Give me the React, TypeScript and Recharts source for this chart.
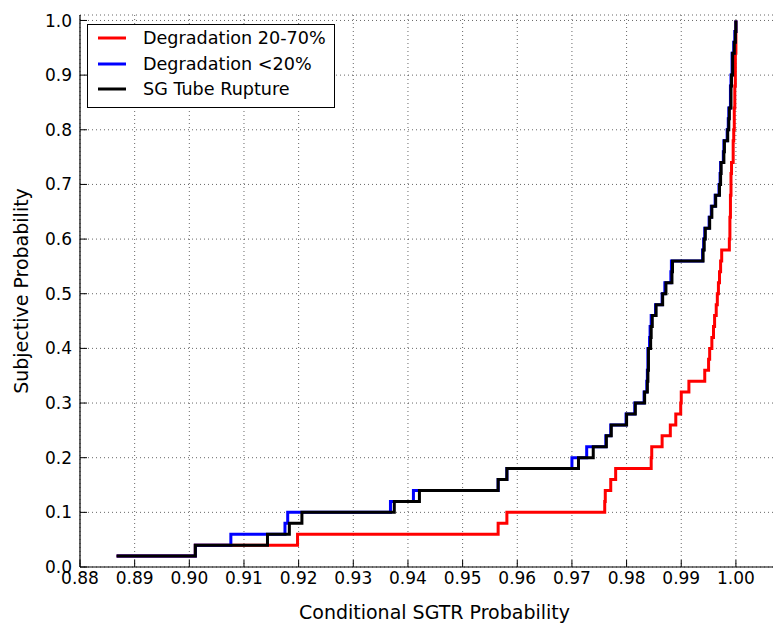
import { LineChart, Line, XAxis, YAxis, CartesianGrid, Legend } from "recharts";

const FONT = "'DejaVu Sans', 'Liberation Sans', sans-serif";

// cumulative probability levels, 50 samples per curve
const probLevels = [
  0.02, 0.04, 0.06, 0.08, 0.10, 0.12, 0.14, 0.16, 0.18, 0.20,
  0.22, 0.24, 0.26, 0.28, 0.30, 0.32, 0.34, 0.36, 0.38, 0.40,
  0.42, 0.44, 0.46, 0.48, 0.50, 0.52, 0.54, 0.56, 0.58, 0.60,
  0.62, 0.64, 0.66, 0.68, 0.70, 0.72, 0.74, 0.76, 0.78, 0.80,
  0.82, 0.84, 0.86, 0.88, 0.90, 0.92, 0.94, 0.96, 0.98, 1.00,
];

// conditional SGTR probability at each level
const degradation2070 = [
  0.8867, 0.9011, 0.9198, 0.9565, 0.9581, 0.9760, 0.9761, 0.9771, 0.9780, 0.9845,
  0.9846, 0.9865, 0.9880, 0.9890, 0.9899, 0.9900, 0.9914, 0.9943, 0.9950, 0.9952,
  0.9956, 0.9959, 0.9961, 0.9964, 0.9966, 0.9968, 0.9970, 0.9972, 0.9974, 0.9988,
  0.9989, 0.9989, 0.9990, 0.9990, 0.9991, 0.9991, 0.9992, 0.9995, 0.9995, 0.9996,
  0.9997, 0.9997, 0.9998, 0.9998, 0.9999, 0.9999, 0.9999, 1.0000, 1.0000, 1.0000,
];

const degradationLt20 = [
  0.8867, 0.9011, 0.9076, 0.9175, 0.9180, 0.9368, 0.9410, 0.9565, 0.9581, 0.9700,
  0.9727, 0.9762, 0.9771, 0.9799, 0.9815, 0.9832, 0.9837, 0.9838, 0.9839, 0.9839,
  0.9842, 0.9843, 0.9845, 0.9853, 0.9865, 0.9870, 0.9881, 0.9882, 0.9939, 0.9941,
  0.9943, 0.9951, 0.9955, 0.9962, 0.9969, 0.9971, 0.9972, 0.9977, 0.9978, 0.9984,
  0.9986, 0.9987, 0.9990, 0.9990, 0.9991, 0.9993, 0.9993, 0.9996, 0.9998, 1.0000,
];

const tubeRupture = [
  0.8867, 0.9011, 0.9143, 0.9183, 0.9206, 0.9375, 0.9421, 0.9565, 0.9581, 0.9712,
  0.9739, 0.9763, 0.9772, 0.9800, 0.9816, 0.9833, 0.9838, 0.9839, 0.9840, 0.9840,
  0.9844, 0.9845, 0.9847, 0.9854, 0.9866, 0.9872, 0.9883, 0.9884, 0.9940, 0.9942,
  0.9944, 0.9952, 0.9956, 0.9963, 0.9970, 0.9972, 0.9973, 0.9978, 0.9979, 0.9985,
  0.9987, 0.9988, 0.9991, 0.9991, 0.9992, 0.9994, 0.9994, 0.9997, 0.9999, 1.0000,
];

const xTicks = [0.88, 0.89, 0.90, 0.91, 0.92, 0.93, 0.94, 0.95, 0.96, 0.97, 0.98, 0.99, 1.00];
const yTicks = [0.0, 0.1, 0.2, 0.3, 0.4, 0.5, 0.6, 0.7, 0.8, 0.9, 1.0];
const xDomain = [0.88, 1.00825];
const yDomain = [0, 1.01];

const toSteps = (xs: number[]) => xs.map((x, i) => ({ x, y: probLevels[i] }));

const series = [
  { name: "Degradation 20-70%", color: "#ff0000", data: toSteps(degradation2070) },
  { name: "Degradation <20%", color: "#0000ff", data: toSteps(degradationLt20) },
  { name: "SG Tube Rupture", color: "#000000", data: toSteps(tubeRupture) },
];

const tickStyle = { fontSize: 17, fill: "#000", fontFamily: FONT };

function LegendBox() {
  return (
    <div
      style={{
        width: 248, height: 84, boxSizing: "border-box",
        border: "1px solid #000", background: "#fff",
        paddingTop: 0.5, fontFamily: FONT, fontSize: 17.6, color: "#000",
      }}
    >
      {series.map((s) => (
        <div key={s.name} style={{ display: "flex", alignItems: "center", height: 25.6 }}>
          <svg width={28} height={4} style={{ marginLeft: 10, marginRight: 17 }}>
            <line x1={0} y1={2} x2={28} y2={2} stroke={s.color} strokeWidth={3} />
          </svg>
          <span>{s.name}</span>
        </div>
      ))}
    </div>
  );
}

export default function App() {
  return (
    <LineChart width={773} height={615} margin={{ top: 7, right: 0, left: 0, bottom: 0 }}>
      <CartesianGrid stroke="#000" strokeOpacity={0.6} strokeDasharray="1 3" />
      <XAxis
        type="number" dataKey="x" domain={xDomain} allowDataOverflow
        ticks={xTicks} interval={0} tickFormatter={(v: number) => v.toFixed(2)}
        height={56} tick={tickStyle} tickSize={-7} tickMargin={12}
        axisLine={{ stroke: "#000", strokeWidth: 1.2 }} tickLine={{ stroke: "#000" }}
        label={{
          value: "Conditional SGTR Probability", position: "insideBottom", offset: 4, dx: 4,
          style: { fontSize: 19, fontFamily: FONT, fill: "#000" },
        }}
      />
      <XAxis
        xAxisId="top" orientation="top" type="number" domain={xDomain} allowDataOverflow
        ticks={xTicks} interval={0} height={0} tick={false} tickSize={-7}
        axisLine={{ stroke: "#000", strokeWidth: 1.2 }} tickLine={{ stroke: "#000" }}
      />
      <YAxis
        type="number" domain={yDomain} allowDataOverflow
        ticks={yTicks} interval={0} tickFormatter={(v: number) => v.toFixed(1)}
        width={72} tick={tickStyle} tickSize={-7} tickMargin={15}
        axisLine={{ stroke: "#000", strokeWidth: 1.2 }} tickLine={{ stroke: "#000" }}
        label={{
          value: "Subjective Probability", angle: -90, position: "insideLeft", offset: 13,
          style: { textAnchor: "middle", fontSize: 19, fontFamily: FONT, fill: "#000" },
        }}
      />
      <Legend
        layout="vertical" align="center" verticalAlign="middle"
        wrapperStyle={{ left: 79, top: 16, width: 248 }}
        content={() => <LegendBox />}
      />
      {series.map((s) => (
        <Line
          key={s.name} name={s.name} data={s.data} dataKey="y" type="stepAfter"
          stroke={s.color} strokeWidth={3} dot={false} isAnimationActive={false}
        />
      ))}
    </LineChart>
  );
}
